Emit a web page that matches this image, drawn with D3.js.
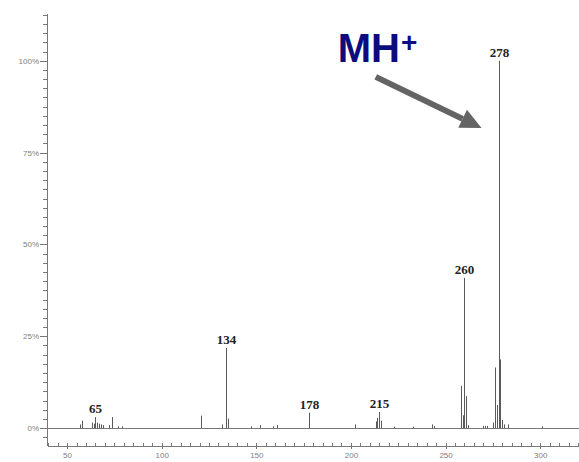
<!DOCTYPE html>
<html>
<head>
<meta charset="utf-8">
<script src="https://cdn.jsdelivr.net/npm/d3@7"></script>
<style>
  body { margin: 0; background: #fff; }
  svg { display: block; }
  .axis text { font-family: "Liberation Sans", Arial, sans-serif; font-size: 8px; fill: #808080; }
  .axis path, .axis line { stroke: #777; shape-rendering: crispEdges; }
</style>
</head>
<body>
<svg id="chart" width="579" height="462"></svg>
<script>
// m/z of each peak and its relative intensity (%)
const masses = [57, 58, 63, 64, 65, 66, 67, 68, 69, 72, 74, 77, 79,
    121, 132, 134, 135, 147, 152, 159, 161,
    178, 202, 213, 214, 215, 216, 223, 233, 243, 244,
    258, 259, 260, 261, 262, 270, 271, 272, 275, 276, 277, 278, 279, 280, 281, 283, 301];
const intensities = [1.0, 2.0, 1.5, 1.2, 3.0, 1.5, 1.2, 1.0, 0.8, 0.8, 3.0, 0.5, 0.5,
    3.4, 1.0, 21.8, 2.6, 0.5, 0.8, 0.5, 0.8,
    4.2, 1.0, 1.8, 2.8, 4.4, 2.0, 0.4, 0.4, 1.0, 0.6,
    11.5, 3.5, 40.9, 8.7, 0.8, 0.6, 0.6, 0.6, 1.5, 16.5, 6.3, 100, 18.7, 2.2, 1.0, 1.0, 0.5];
const labeledMasses = [65, 134, 178, 215, 260, 278];

const xTicks = [50, 100, 150, 200, 250, 300];
const yTicks = [0, 25, 50, 75, 100];

const svg = d3.select("#chart");

const x = d3.scaleLinear().domain([39.4, 320.5]).range([47, 579]);
const y = d3.scaleLinear().domain([-4.6, 113]).range([445, 13]);

const peaks = masses.map((m, i) => ({m: m, v: intensities[i]}));

// y axis: minor ticks every 2.5 %, labelled ticks every 25 %
const yMinor = d3.range(-2.5, 113, 2.5);
svg.append("g")
    .attr("class", "axis")
    .attr("transform", "translate(47,0)")
    .call(d3.axisLeft(y).tickValues(yMinor).tickSize(4).tickSizeOuter(0).tickFormat(""));
svg.append("g")
    .attr("class", "axis")
    .attr("transform", "translate(47,0)")
    .call(d3.axisLeft(y).tickValues(yTicks).tickSize(7).tickSizeOuter(0).tickPadding(1)
        .tickFormat(d => d + "%"))
    .call(g => g.select(".domain").remove());

// x axis at the bottom, ticks pointing up
const xMinor = d3.range(40, 321, 5);
svg.append("g")
    .attr("class", "axis")
    .attr("transform", "translate(0,446)")
    .call(d3.axisBottom(x).tickValues(xMinor).tickSize(-3).tickSizeOuter(0).tickFormat(""));
svg.append("g")
    .attr("class", "axis")
    .attr("transform", "translate(0,446)")
    .call(d3.axisBottom(x).tickValues(xTicks).tickSize(3).tickSizeOuter(0).tickPadding(3))
    .call(g => g.select(".domain").remove());

// 0 % baseline
svg.append("line")
    .attr("x1", x.range()[0]).attr("x2", x.range()[1])
    .attr("y1", y(0)).attr("y2", y(0))
    .attr("stroke", "#777")
    .attr("shape-rendering", "crispEdges");

// peaks
svg.append("g")
    .selectAll("line")
    .data(peaks)
    .join("line")
    .attr("x1", d => Math.round(x(d.m)) + 0.5)
    .attr("x2", d => Math.round(x(d.m)) + 0.5)
    .attr("y1", y(0))
    .attr("y2", d => y(d.v))
    .attr("stroke", "#5a5a5a")
    .attr("stroke-width", 1);

// peak labels
svg.append("g")
    .selectAll("text")
    .data(peaks.filter(d => labeledMasses.includes(d.m)))
    .join("text")
    .attr("x", d => Math.round(x(d.m)) + 0.5)
    .attr("y", d => y(d.v) - 4)
    .attr("text-anchor", "middle")
    .attr("font-family", "'Liberation Serif', 'Times New Roman', serif")
    .attr("font-size", 13)
    .attr("font-weight", "bold")
    .attr("fill", "#222")
    .text(d => d.m);

// MH+ annotation with arrow
const note = svg.append("g");
const mh = note.append("text")
    .attr("x", x(193))
    .attr("y", y(99.7))
    .attr("font-family", "'Liberation Sans', Arial, sans-serif")
    .attr("font-weight", "bold")
    .attr("font-size", 40)
    .attr("fill", "#0c0c7e");
mh.append("tspan").text("MH");
mh.append("tspan").attr("font-size", 28).attr("dy", -10).attr("dx", 1).text("+");

const ax1 = x(213.1), ay1 = y(95.6), ax2 = x(269), ay2 = y(81.7);
const ang = Math.atan2(ay2 - ay1, ax2 - ax1);
const headLen = 21, headHalf = 10;
const bx = ax2 - headLen * Math.cos(ang), by = ay2 - headLen * Math.sin(ang);
note.append("line")
    .attr("x1", ax1).attr("y1", ay1)
    .attr("x2", bx).attr("y2", by)
    .attr("stroke", "#646464")
    .attr("stroke-width", 6);
note.append("path")
    .attr("d", d3.line()([
        [ax2, ay2],
        [bx + headHalf * Math.sin(ang), by - headHalf * Math.cos(ang)],
        [bx - headHalf * Math.sin(ang), by + headHalf * Math.cos(ang)]
    ]) + "Z")
    .attr("fill", "#646464");
</script>
</body>
</html>
